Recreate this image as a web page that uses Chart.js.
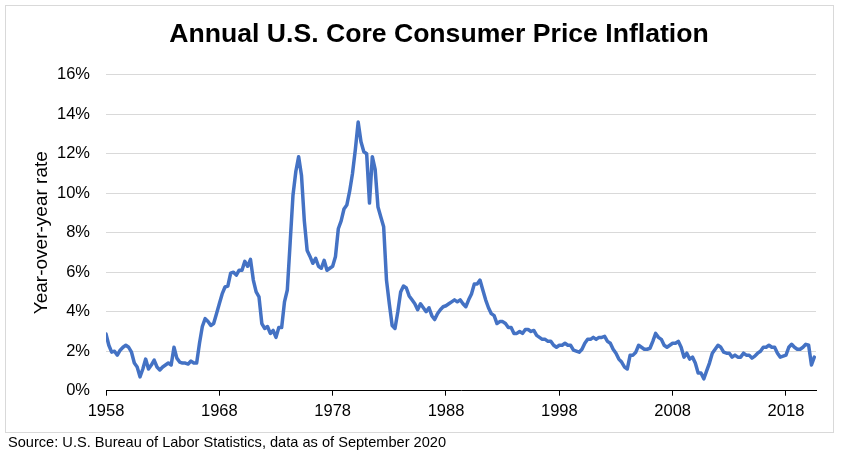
<!DOCTYPE html>
<html>
<head>
<meta charset="utf-8">
<script src="https://cdn.jsdelivr.net/npm/chart.js@4"></script>
<style>
  html, body { margin: 0; padding: 0; background: #fff; }
  #wrap { width: 844px; height: 457px; }
</style>
</head>
<body>
<div id="wrap"><canvas id="chart" width="844" height="457"></canvas></div>
<script>
// Quarterly core CPI, year-over-year % (Jan, Apr, Jul, Oct of each year)
const startYear = 1958;
const stepYears = 0.25;
const cpi1958to1979 = [
  2.87, 2.3, 1.95, 2.0,   1.8, 2.05, 2.2, 2.3,    2.2, 1.95, 1.4, 1.2,   0.7, 1.1, 1.6, 1.1,
  1.3, 1.55, 1.2, 1.05,   1.2, 1.3, 1.4, 1.3,     2.2, 1.65, 1.45, 1.4,  1.4, 1.35, 1.5, 1.4,
  1.4, 2.4, 3.25, 3.65,   3.5, 3.3, 3.4, 3.9,     4.4, 4.9, 5.25, 5.3,   5.95, 6.0, 5.85, 6.1,
  6.1, 6.55, 6.3, 6.65,   5.6, 5.0, 4.75, 3.4,    3.15, 3.25, 2.9, 3.05, 2.7, 3.2, 3.2, 4.5,
  5.1, 7.5, 9.9, 11.1,    11.85, 10.9, 8.6, 7.1,  6.8, 6.45, 6.7, 6.3,   6.2, 6.6, 6.1, 6.2,
  6.3, 6.8, 8.2, 8.6,     9.2, 9.4, 10.1, 11.0
];
const cpi1980to1999 = [
  12.2, 13.6, 12.6, 12.1, 12.0, 9.5, 11.85, 11.2, 9.3, 8.8, 8.3, 5.6,   4.4, 3.3, 3.15, 4.0,
  5.0, 5.3, 5.2, 4.8,     4.6, 4.4, 4.1, 4.4,     4.2, 4.0, 4.2, 3.8,    3.6, 3.9, 4.1, 4.25,
  4.3, 4.4, 4.5, 4.6,     4.5, 4.6, 4.4, 4.25,    4.6, 4.9, 5.4, 5.4,    5.6, 5.1, 4.6, 4.2,
  3.9, 3.8, 3.4, 3.5,     3.5, 3.4, 3.2, 3.2,     2.9, 2.9, 3.0, 2.9,    3.1, 3.1, 3.0, 3.05,
  2.8, 2.7, 2.6, 2.6,     2.5, 2.5, 2.3, 2.2,     2.3, 2.3, 2.4, 2.3,    2.3, 2.05, 2.0, 1.95
];
const cpi2000to2020 = [
  2.1, 2.4, 2.6, 2.6,     2.7, 2.6, 2.7, 2.7,     2.75, 2.5, 2.4, 2.1,   1.9, 1.6, 1.45, 1.2,
  1.1, 1.8, 1.8, 1.95,    2.3, 2.2, 2.1, 2.1,     2.15, 2.5, 2.9, 2.7,   2.6, 2.3, 2.2, 2.3,
  2.4, 2.4, 2.5, 2.2,     1.7, 1.9, 1.6, 1.7,     1.4, 0.9, 0.9, 0.6,    1.0, 1.4, 1.9, 2.1,
  2.3, 2.2, 1.95, 1.9,    1.9, 1.7, 1.8, 1.7,     1.7, 1.9, 1.8, 1.8,    1.65, 1.75, 1.9, 2.0,
  2.2, 2.2, 2.3, 2.2,     2.2, 1.9, 1.7, 1.75,    1.8, 2.2, 2.35, 2.2,   2.1, 2.1, 2.2, 2.35,
  2.3, 1.3, 1.7
];
const tickYears = [1958, 1968, 1978, 1988, 1998, 2008, 2018];
const yTicks = [0, 2, 4, 6, 8, 10, 12, 14, 16];

const allValues = cpi1958to1979.concat(cpi1980to1999, cpi2000to2020);
const points = allValues.map(function(v, i) {
    return { x: startYear + i * stepYears, y: v };
});

const FONT = '"Liberation Sans", Arial, sans-serif';
const TITLE = 'Annual U.S. Core Consumer Price Inflation';
const SOURCE = 'Source: U.S. Bureau of Labor Statistics, data as of September 2020';

// Frame, title (sits a bit right of centre like the original) and source note
const framePlugin = {
    id: 'frame',
    beforeDraw: function(chart) {
        const ctx = chart.ctx;
        ctx.save();
        ctx.fillStyle = '#ffffff';
        ctx.fillRect(0, 0, chart.width, chart.height);
        ctx.strokeStyle = '#d9d9d9';
        ctx.lineWidth = 1;
        ctx.strokeRect(5.5, 5.5, 828, 427);
        ctx.restore();
    },
    afterDraw: function(chart) {
        const ctx = chart.ctx;
        ctx.save();
        ctx.fillStyle = '#000000';
        ctx.font = 'bold 26.6px ' + FONT;
        ctx.textAlign = 'center';
        ctx.textBaseline = 'middle';
        ctx.fillText(TITLE, 439, 34.5);
        ctx.font = '14.6px ' + FONT;
        ctx.textAlign = 'left';
        ctx.fillText(SOURCE, 8, 443);
        ctx.restore();
    }
};

new Chart(document.getElementById('chart'), {
    type: 'line',
    data: {
        datasets: [{
            data: points,
            borderColor: '#4472c4',
            borderWidth: 3.5,
            pointRadius: 0,
            tension: 0,
            borderJoinStyle: 'round',
            borderCapStyle: 'round',
            fill: false
        }]
    },
    options: {
        responsive: false,
        animation: false,
        layout: { padding: { top: 74.7, left: 24, right: 28, bottom: 30 } },
        plugins: {
            legend: { display: false },
            tooltip: { enabled: false },
            title: { display: false }
        },
        scales: {
            x: {
                type: 'linear',
                min: 1958,
                max: 2020.65,
                afterFit: function(s) { s.height = 36.3; },
                afterBuildTicks: function(s) {
                    s.ticks = tickYears.map(function(v) { return { value: v }; });
                },
                ticks: {
                    color: '#000',
                    font: { family: FONT, size: 16.5 },
                    padding: 6,
                    maxRotation: 0,
                    callback: function(v) { return String(v); }
                },
                grid: {
                    drawOnChartArea: false,
                    drawTicks: true,
                    tickLength: 5,
                    color: '#000'
                },
                border: { display: true, color: '#000', width: 1 }
            },
            y: {
                min: 0,
                max: 16,
                afterFit: function(s) { s.width = 106 - 24; },
                afterBuildTicks: function(s) {
                    s.ticks = yTicks.map(function(v) { return { value: v }; });
                },
                ticks: {
                    color: '#000',
                    font: { family: FONT, size: 16.5 },
                    padding: 16,
                    callback: function(v) { return v + '%'; }
                },
                grid: {
                    color: '#d9d9d9',
                    lineWidth: 1,
                    drawTicks: false
                },
                border: { display: false },
                title: {
                    display: true,
                    text: 'Year-over-year rate',
                    color: '#000',
                    font: { family: FONT, size: 19 },
                    padding: { top: 6, bottom: 4 }
                }
            }
        }
    },
    plugins: [framePlugin]
});
</script>
</body>
</html>
